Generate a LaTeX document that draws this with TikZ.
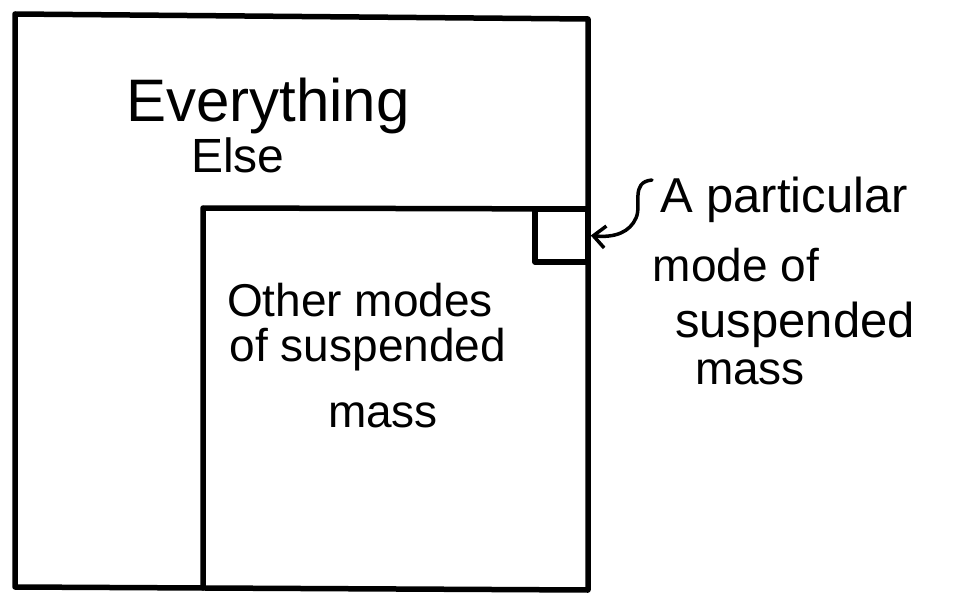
\documentclass[tikz,border=0pt]{standalone}
\usepackage{fontspec}
\setmainfont{Liberation Sans}
\usetikzlibrary{arrows.meta}
\tikzset{
  boxline/.style={line width=5.5pt, line join=round, line cap=round},
  hand/.style={inner sep=0pt, font=\fontsize{46}{50}\selectfont},
  pointer/.style={line width=3.5pt, line cap=round, -{Straight Barb[length=12pt,width=22pt,line width=3.5pt]}},
}
\begin{document}
\begin{tikzpicture}[x=1pt,y=-1pt]
\useasboundingbox (0,0) rectangle (953,596);
% outer box
\draw[boxline] (15,14) -- (588,19) -- (588,590) -- (15,587) -- cycle;
% inner box
\draw[boxline] (203,588) -- (203,208) -- (588,209);
% small box (a particular mode)
\node[boxline, draw, minimum width=53pt, minimum height=53pt, inner sep=0pt] (mode) at (561.5,235.5) {};
% texts
\node[hand, font=\fontsize{60}{64}\selectfont] (every) at (268,106) {Everything};
\node[hand, font=\fontsize{48}{52}\selectfont] (else) at (238,155) {Else};
\node[hand] (other) at (360,300) {Other modes};
\node[hand] (ofsusp) at (368,350) {of suspended};
\node[hand] (mass1) at (383,415) {mass};
\node[hand, anchor=west, font=\fontsize{49}{53}\selectfont] (part) at (660,200) {A particular};
\node[hand] (modeof) at (736,265) {mode of};
\node[hand, font=\fontsize{49}{53}\selectfont] (susp) at (795,325) {suspended};
\node[hand] (mass2) at (750,372) {mass};
% arrow
\draw[pointer] (part.west) ++(-8,-20) .. controls (630,182) and (642,205) .. (636,218) .. controls (630,232) and (615,238) .. (mode.east);
\end{tikzpicture}
\end{document}
